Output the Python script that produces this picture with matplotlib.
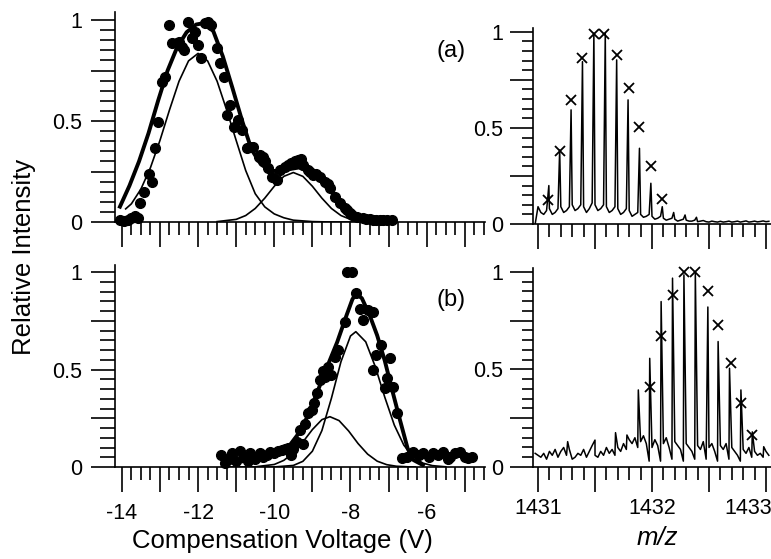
import numpy as np
import matplotlib
matplotlib.use('Agg')
import matplotlib.pyplot as plt
from matplotlib.ticker import MultipleLocator, FixedLocator, FuncFormatter

# ---- CV scan (a): measured points ----
cv_a = [-14.05, -13.95, -13.85, -13.75, -13.65, -13.58, -13.52, -13.43, -13.3, -13.21,
        -13.13, -13.04, -12.95, -12.86, -12.76, -12.69, -12.56, -12.5, -12.43, -12.38,
        -12.27, -12.16, -12.08, -11.99, -11.92, -11.81, -11.75, -11.66, -11.51, -11.42,
        -11.33, -11.24, -11.16, -11.07, -10.94, -10.85, -10.72, -10.63, -10.55, -10.41,
        -10.38, -10.3, -10.25, -10.16, -10.07, -9.94, -9.85, -9.72, -9.63, -9.55,
        -9.46, -9.37, -9.3, -9.24, -9.11, -9.05, -8.98, -8.9, -8.8, -8.67,
        -8.6, -8.54, -8.41, -8.28, -8.15, -8.1, -8.02, -7.95, -7.84, -7.67,
        -7.58, -7.49, -7.4, -7.32, -7.23, -7.14, -7.05, -6.92]
int_a = [0.01, 0.005, 0.01, 0.02, 0.03, 0.02, 0.093, 0.15, 0.24, 0.2,
         0.365, 0.497, 0.695, 0.72, 0.975, 0.885, 0.885, 0.89, 0.868, 0.85,
         0.99, 0.91, 0.94, 0.876, 0.81, 0.985, 0.99, 0.975, 0.86, 0.786,
         0.72, 0.53, 0.58, 0.47, 0.505, 0.455, 0.365, 0.37, 0.373, 0.323,
         0.33, 0.32, 0.3, 0.266, 0.224, 0.208, 0.257, 0.274, 0.28, 0.29,
         0.3, 0.307, 0.31, 0.282, 0.257, 0.25, 0.233, 0.24, 0.224, 0.2,
         0.19, 0.167, 0.125, 0.093, 0.068, 0.058, 0.043, 0.035, 0.026, 0.018,
         0.016, 0.013, 0.012, 0.01, 0.01, 0.01, 0.01, 0.01]

# fitted curves (a)
fit_a_cv = [-14.05, -13.8, -13.55, -13.3, -13.05, -12.8, -12.55, -12.3, -12.05, -11.85,
            -11.6, -11.35, -11.1, -10.85, -10.6, -10.35, -10.1, -9.85, -9.6, -9.35,
            -9.1, -8.85, -8.6, -8.35, -8.1, -7.85, -7.6, -7.3, -6.9]
fit_a = [0.076, 0.18, 0.30, 0.44, 0.60, 0.75, 0.865, 0.94, 0.978, 0.985,
         0.945, 0.82, 0.665, 0.505, 0.36, 0.285, 0.255, 0.25, 0.262, 0.27,
         0.25, 0.215, 0.17, 0.115, 0.068, 0.035, 0.018, 0.009, 0.005]

comp1_a_cv = [-13.9, -13.75, -13.5, -13.25, -13.0, -12.75, -12.5, -12.25, -12.0, -11.75,
              -11.5, -11.25, -11.0, -10.75, -10.5, -10.25, -10.0, -9.75, -9.5, -9.0,
              -8.5, -8.0, -7.5, -6.9]
comp1_a = [0.065, 0.09, 0.163, 0.269, 0.404, 0.555, 0.697, 0.798, 0.835, 0.798,
           0.697, 0.555, 0.404, 0.255, 0.14, 0.075, 0.04, 0.021, 0.009, 0.002,
           0.0, 0.0, 0.0, 0.0]

comp2_a_cv = [-11.5, -11.0, -10.75, -10.5, -10.25, -10.0, -9.75, -9.5, -9.25, -9.0,
              -8.75, -8.5, -8.25, -8.0, -7.75, -7.5, -7.0, -6.9]
comp2_a = [0.002, 0.013, 0.032, 0.067, 0.118, 0.177, 0.226, 0.245, 0.226, 0.177,
           0.118, 0.067, 0.032, 0.013, 0.005, 0.002, 0.0, 0.0]

# ---- CV scan (b): measured points ----
cv_b = [-11.4, -11.3, -11.2, -11.1, -11.0, -10.9, -10.8, -10.7, -10.64, -10.5,
        -10.38, -10.3, -10.2, -10.12, -10.0, -9.9, -9.81, -9.72, -9.63, -9.55,
        -9.5, -9.41, -9.33, -9.24, -9.2, -9.11, -9.02, -8.95, -8.89, -8.8,
        -8.72, -8.67, -8.59, -8.5, -8.41, -8.32, -8.15, -8.1, -7.95, -7.86,
        -7.75, -7.67, -7.54, -7.42, -7.4, -7.32, -7.19, -7.1, -7.05, -6.97,
        -6.88, -6.79, -6.66, -6.53, -6.35, -6.2, -6.09, -5.95, -5.83, -5.7,
        -5.57, -5.45, -5.39, -5.25, -5.13, -5.0, -4.91, -4.82]
int_b = [0.06, 0.02, 0.04, 0.07, 0.03, 0.08, 0.05, 0.03, 0.07, 0.04,
         0.07, 0.05, 0.06, 0.078, 0.07, 0.08, 0.087, 0.09, 0.096, 0.06,
         0.09, 0.13, 0.19, 0.12, 0.22, 0.275, 0.292, 0.33, 0.378, 0.446,
         0.49, 0.463, 0.514, 0.472, 0.566, 0.6, 0.745, 1.0, 1.0, 0.89,
         0.81, 0.754, 0.805, 0.796, 0.497, 0.574, 0.626, 0.404, 0.455, 0.557,
         0.412, 0.275, 0.045, 0.053, 0.078, 0.06, 0.07, 0.05, 0.07, 0.06,
         0.078, 0.04, 0.053, 0.07, 0.078, 0.05, 0.045, 0.053]

fit_b_cv = [-11.35, -11.0, -10.6, -10.2, -9.9, -9.6, -9.35, -9.1, -8.85, -8.6,
            -8.35, -8.1, -7.95, -7.85, -7.7, -7.5, -7.3, -7.1, -6.9, -6.7,
            -6.5, -6.35, -6.1]
fit_b = [0.02, 0.025, 0.035, 0.05, 0.07, 0.11, 0.175, 0.27, 0.395, 0.52,
         0.64, 0.78, 0.86, 0.89, 0.865, 0.78, 0.675, 0.545, 0.39, 0.24,
         0.095, 0.036, 0.01]

comp1_b_cv = [-11.35, -10.5, -10.0, -9.5, -9.25, -9.0, -8.75, -8.5, -8.25, -8.0,
              -7.86, -7.6, -7.35, -7.1, -6.85, -6.6, -6.35, -6.1, -5.85, -5.5]
comp1_b = [0.0, 0.0, 0.0004, 0.008, 0.029, 0.081, 0.187, 0.353, 0.54, 0.672,
           0.694, 0.642, 0.515, 0.358, 0.215, 0.112, 0.051, 0.02, 0.007, 0.001]

comp2_b_cv = [-11.35, -10.5, -10.0, -9.75, -9.5, -9.25, -9.0, -8.75, -8.54, -8.3,
              -8.05, -7.8, -7.55, -7.3, -7.05, -6.8, -6.5, -6.3]
comp2_b = [0.0, 0.001, 0.013, 0.034, 0.072, 0.128, 0.192, 0.243, 0.258, 0.238,
           0.185, 0.12, 0.066, 0.03, 0.012, 0.004, 0.001, 0.0]

# ---- mass spectra ----
base_mz = np.linspace(1430.975, 1433.025, 83)
base_a = [0.0, 0.09, 0.06, 0.05, 0.07, 0.08, 0.05, 0.06, 0.08, 0.09,
          0.06, 0.07, 0.09, 0.10, 0.07, 0.08, 0.10, 0.09, 0.06, 0.08,
          0.11, 0.10, 0.07, 0.08, 0.10, 0.09, 0.06, 0.07, 0.09, 0.08,
          0.05, 0.06, 0.08, 0.07, 0.04, 0.05, 0.06, 0.05, 0.035, 0.04,
          0.05, 0.04, 0.025, 0.03, 0.04, 0.03, 0.02, 0.025, 0.03, 0.025,
          0.015, 0.02, 0.025, 0.02, 0.015, 0.015, 0.02, 0.012, 0.015, 0.018,
          0.012, 0.01, 0.015, 0.012, 0.01, 0.014, 0.01, 0.012, 0.015, 0.01,
          0.012, 0.015, 0.01, 0.013, 0.016, 0.01, 0.012, 0.015, 0.011, 0.013,
          0.016, 0.012, 0.014]
peak_mz_a = [1431.095, 1431.19, 1431.29, 1431.39, 1431.49, 1431.59, 1431.69, 1431.79,
             1431.89, 1431.99, 1432.09, 1432.19, 1432.29, 1432.39]
peak_a = [0.2, 0.385, 0.594, 0.845, 0.993, 0.993, 0.854, 0.646,
          0.394, 0.212, 0.09, 0.06, 0.047, 0.035]
theo_mz_a = [1431.09, 1431.19, 1431.29, 1431.39, 1431.49, 1431.58, 1431.69, 1431.8,
             1431.89, 1431.99, 1432.09]
theo_a = [0.125, 0.382, 0.646, 0.863, 0.988, 0.988, 0.88, 0.707, 0.503, 0.304, 0.13]

base_b = [0.07, 0.06, 0.05, 0.07, 0.04, 0.08, 0.06, 0.09, 0.05, 0.08,
          0.10, 0.06, 0.09, 0.04, 0.05, 0.07, 0.06, 0.09, 0.05, 0.08,
          0.11, 0.06, 0.05, 0.08, 0.06, 0.10, 0.07, 0.09, 0.06, 0.10,
          0.08, 0.12, 0.09, 0.14, 0.12, 0.15, 0.10, 0.13, 0.16, 0.12,
          0.03, 0.10, 0.14, 0.11, 0.03, 0.12, 0.15, 0.10, 0.04, 0.13,
          0.11, 0.09, 0.03, 0.12, 0.10, 0.08, 0.04, 0.11, 0.09, 0.13,
          0.04, 0.10, 0.12, 0.08, 0.03, 0.11, 0.09, 0.12, 0.04, 0.10,
          0.08, 0.06, 0.03, 0.09, 0.07, 0.10, 0.05, 0.08, 0.06, 0.07,
          0.05, 0.08, 0.06]
peak_mz_b = [1431.26, 1431.5, 1431.68, 1431.78, 1431.88, 1431.98, 1432.08, 1432.18,
             1432.28, 1432.38, 1432.49, 1432.58, 1432.68, 1432.78, 1432.88, 1432.98]
peak_b = [0.13, 0.138, 0.176, 0.164, 0.395, 0.557, 0.848, 0.968,
          0.985, 1.0, 0.82, 0.643, 0.506, 0.395, 0.18, 0.104]
theo_mz_b = [1431.98, 1432.08, 1432.18, 1432.28, 1432.38, 1432.49, 1432.58, 1432.69,
             1432.78, 1432.88]
theo_b = [0.41, 0.672, 0.882, 1.0, 1.0, 0.9, 0.728, 0.532, 0.327, 0.164]

plt.rcParams['font.family'] = ['Liberation Sans', 'DejaVu Sans']
plt.rcParams['axes.unicode_minus'] = False

W, H = 771, 559
fig = plt.figure(figsize=(W / 100, H / 100), dpi=100)


def add_axes_px(left, top, right, bottom):
    return fig.add_axes([left / W, 1 - bottom / H, (right - left) / W, (bottom - top) / H])


def ylabel_fmt(v, pos):
    return {0: '0', 0.5: '0.5', 1: '1'}.get(round(v, 2), '')


def style_axes(ax, ymaj, ymin, xmaj, xmin, xpad, ypad):
    for s in ('top', 'right'):
        ax.spines[s].set_visible(False)
    for s in ('left', 'bottom'):
        ax.spines[s].set_linewidth(1.2)
    ax.yaxis.set_major_locator(FixedLocator([0, 0.25, 0.5, 0.75, 1]))
    ax.yaxis.set_major_formatter(FuncFormatter(ylabel_fmt))
    ax.yaxis.set_minor_locator(MultipleLocator(0.05))
    ax.tick_params(axis='y', which='major', direction='out', length=ymaj, width=1.2,
                   labelsize=15.5, pad=ypad)
    ax.tick_params(axis='y', which='minor', direction='out', length=ymin, width=1.2)
    ax.tick_params(axis='x', which='major', direction='out', length=xmaj, width=1.2,
                   labelsize=15.5, pad=xpad)
    ax.tick_params(axis='x', which='minor', direction='out', length=xmin, width=1.2)


def cv_axes(top, bottom, ymax, show_labels):
    ax = add_axes_px(115, top, 485, bottom)
    ax.set_xlim(-14.18, -4.47)
    ax.set_ylim(0, ymax)
    style_axes(ax, 17, 10.5, 18, 9.5, 8, 6.5)
    ax.xaxis.set_major_locator(MultipleLocator(1))
    ax.xaxis.set_minor_locator(MultipleLocator(0.25))
    if show_labels:
        ax.xaxis.set_major_formatter(
            FuncFormatter(lambda v, p: '%d' % round(v) if round(v) % 2 == 0 else ''))
    else:
        ax.set_xticklabels([])
    return ax


def ms_axes(top, bottom, ymax, show_labels):
    ax = add_axes_px(533, top, 771, bottom)
    ax.set_xlim(1430.956, 1433.044)
    ax.set_ylim(0, ymax)
    style_axes(ax, 16.5, 8, 18, 9, 4, 5)
    ax.xaxis.set_major_locator(MultipleLocator(0.5))
    ax.xaxis.set_minor_locator(MultipleLocator(0.1))
    if show_labels:
        # last label sits on the figure edge, drawn separately a bit to the left
        ax.xaxis.set_major_formatter(
            FuncFormatter(lambda v, p: '%d' % round(v)
                          if abs(v - round(v)) < 0.01 and round(v) < 1433 else ''))
        ax.annotate('1433', xy=(1433, 0), xycoords=('data', 'axes fraction'),
                    xytext=(-13, -22), textcoords='offset points',
                    ha='center', va='top', fontsize=15.5, annotation_clip=False)
    else:
        ax.set_xticklabels([])
    return ax


def spectrum(base, peak_mz, peaks):
    mz = np.concatenate([base_mz, peak_mz])
    it = np.concatenate([base, peaks])
    order = np.argsort(mz)
    return mz[order], it[order]


# (a) CV
ax = cv_axes(12, 222, 1.04, False)
ax.plot(fit_a_cv, fit_a, color='black', lw=2.8)
ax.plot(comp1_a_cv, comp1_a, color='black', lw=1.2)
ax.plot(comp2_a_cv, comp2_a, color='black', lw=1.2)
ax.plot(cv_a, int_a, 'o', color='black', ms=7, clip_on=False)

# (b) CV
ax = cv_axes(265, 467, 1.036, True)
ax.plot(fit_b_cv, fit_b, color='black', lw=2.8)
ax.plot(comp1_b_cv, comp1_b, color='black', lw=1.2)
ax.plot(comp2_b_cv, comp2_b, color='black', lw=1.2)
ax.plot(cv_b, int_b, 'o', color='black', ms=7, clip_on=False)

# (a) MS
ax = ms_axes(28, 224, 1.02, False)
mz, it = spectrum(base_a, peak_mz_a, peak_a)
ax.plot(mz, it, color='black', lw=1.1)
ax.plot(theo_mz_a, theo_a, 'x', color='black', ms=7, mew=1.3, clip_on=False)

# (b) MS
ax = ms_axes(268, 467, 1.02, True)
mz, it = spectrum(base_b, peak_mz_b, peak_b)
ax.plot(mz, it, color='black', lw=1.1)
ax.plot(theo_mz_b, theo_b, 'x', color='black', ms=7, mew=1.3, clip_on=False)

fig.text(451 / W, 1 - 51 / H, '(a)', ha='center', va='center', fontsize=17)
fig.text(451 / W, 1 - 300 / H, '(b)', ha='center', va='center', fontsize=17)
fig.text(24 / W, 1 - 257 / H, 'Relative Intensity', rotation=90,
         ha='center', va='center', fontsize=18.5)
fig.text(282 / W, 1 - 541 / H, 'Compensation Voltage (V)',
         ha='center', va='center', fontsize=18.5)
fig.text(657 / W, 1 - 538 / H, 'm/z', style='italic',
         ha='center', va='center', fontsize=18.5)

fig.savefig('out.png', dpi=100)
